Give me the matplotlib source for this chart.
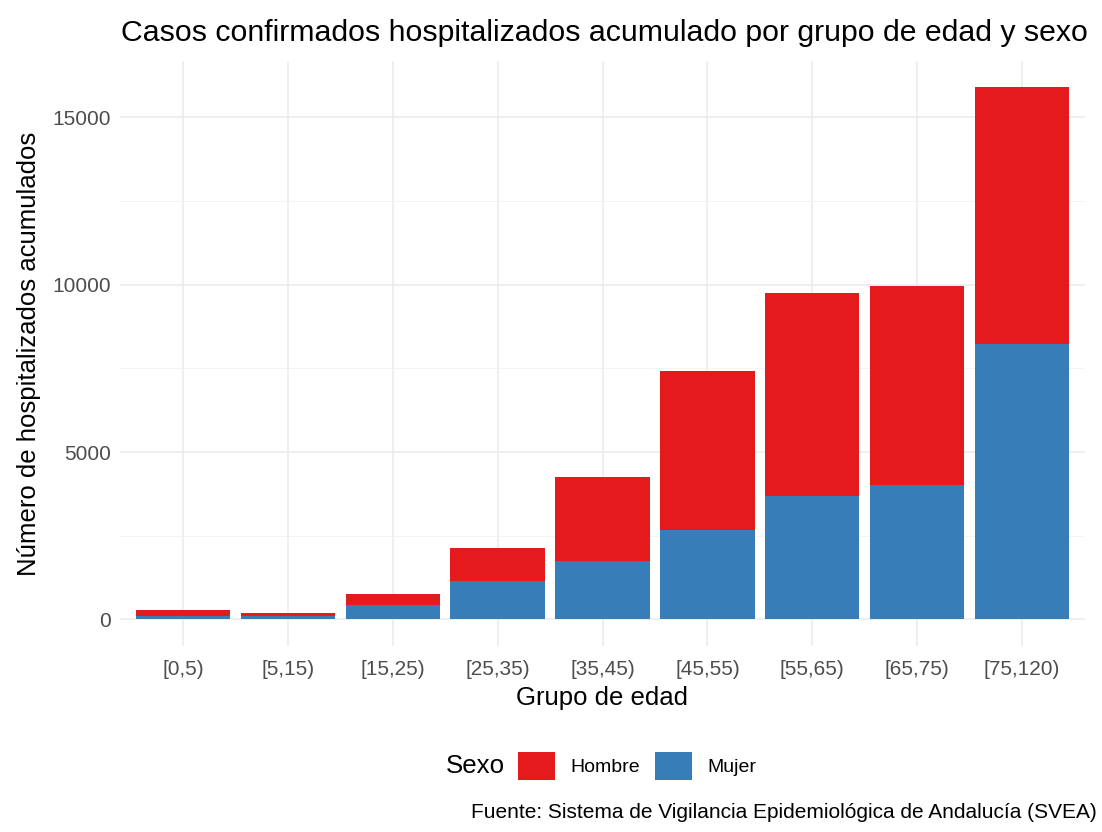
import numpy as np
from matplotlib import pyplot as plt
from matplotlib.ticker import MultipleLocator

# datos
grupos = ['[0,5)', '[5,15)', '[15,25)', '[25,35)', '[35,45)',
          '[45,55)', '[55,65)', '[65,75)', '[75,120)']
mujer = [110, 90, 420, 1160, 1750, 2670, 3690, 4010, 8220]
hombre = [180, 110, 340, 970, 2490, 4750, 6060, 5960, 7670]

rojo = '#E41A1C'
azul = '#377EB8'

plt.rcParams['font.family'] = ['Liberation Sans', 'DejaVu Sans']

fig = plt.figure(figsize=(11.02, 8.32), dpi=100)
ax = fig.add_axes([120 / 1102, 1 - 646 / 832, 965 / 1102, 585 / 832])

x = np.arange(1, len(grupos) + 1)
b_m = ax.bar(x, mujer, width=0.9, color=azul, label='Mujer', zorder=3)
b_h = ax.bar(x, hombre, width=0.9, bottom=mujer, color=rojo, label='Hombre', zorder=3)

ax.set_xlim(0.4, len(grupos) + 0.6)
ax.set_ylim(-794, 16680)
ax.set_xticks(x)
ax.set_xticklabels(grupos)
ax.yaxis.set_major_locator(MultipleLocator(5000))
ax.yaxis.set_minor_locator(MultipleLocator(2500))

# estilo tipo theme_minimal
for s in ax.spines.values():
    s.set_visible(False)
ax.grid(which='major', color='#EBEBEB', linewidth=1.1, zorder=0)
ax.grid(which='minor', axis='y', color='#F2F2F2', linewidth=0.6, zorder=0)
ax.tick_params(which='both', length=0, labelsize=15, labelcolor='#4D4D4D')
ax.tick_params(axis='x', pad=10)
ax.tick_params(axis='y', pad=6.5)

ax.set_xlabel('Grupo de edad', fontsize=18.5, labelpad=5)
ax.set_ylabel('Número de hospitalizados acumulados', fontsize=18.5, labelpad=8)

fig.text(121 / 1102, 1 - 33 / 832, 'Casos confirmados hospitalizados acumulado por grupo de edad y sexo',
         fontsize=21.8, va='center', ha='left')

# leyenda abajo
fig.text(446 / 1102, 1 - 766 / 832, 'Sexo', fontsize=18.6, va='center', ha='left')
fig.legend(handles=[b_h, b_m], labels=['Hombre', 'Mujer'], ncol=2, frameon=False,
           loc='center left', bbox_to_anchor=(518 / 1102, 1 - 766 / 832),
           fontsize=14, handlelength=1.9, handleheight=1.85, handletextpad=0.77,
           columnspacing=0.82, borderpad=0, borderaxespad=0)

fig.text(1097 / 1102, 1 - 812 / 832, 'Fuente: Sistema de Vigilancia Epidemiológica de Andalucía (SVEA)',
         fontsize=15, va='center', ha='right')

fig.savefig('out.png', dpi=100)
